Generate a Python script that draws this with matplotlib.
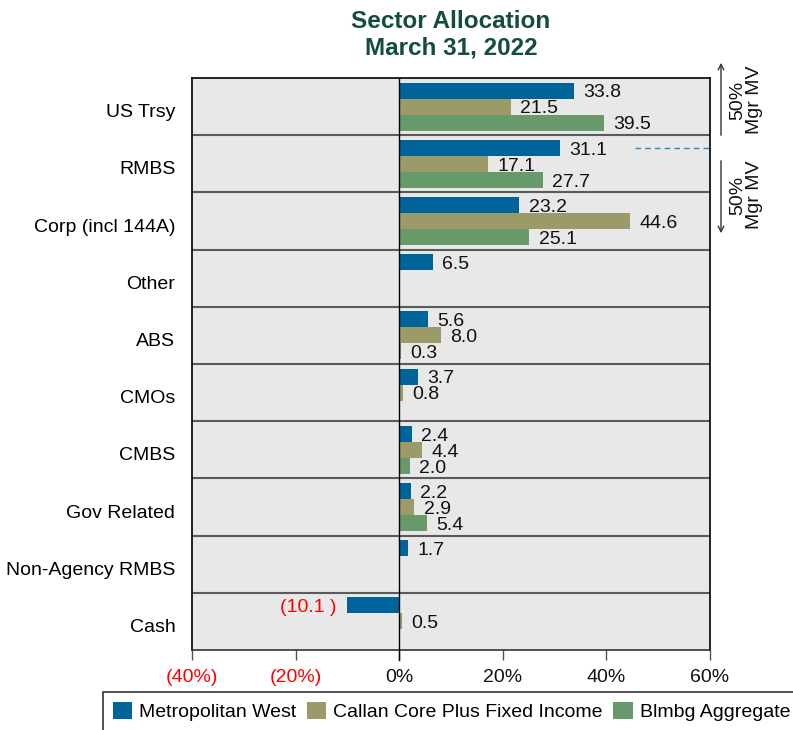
import numpy as np
import matplotlib
matplotlib.use("Agg")
from matplotlib import pyplot as plt
from matplotlib.patches import Patch
from matplotlib.transforms import ScaledTranslation

plt.rcParams["font.family"] = ["Liberation Sans", "DejaVu Sans"]

categories = ["US Trsy", "RMBS", "Corp (incl 144A)", "Other", "ABS", "CMOs",
              "CMBS", "Gov Related", "Non-Agency RMBS", "Cash"]
series_names = ["Metropolitan West", "Callan Core Plus Fixed Income", "Blmbg Aggregate"]
met_west = [33.8, 31.1, 23.2, 6.5, 5.6, 3.7, 2.4, 2.2, 1.7, -10.1]
callan = [21.5, 17.1, 44.6, None, 8.0, 0.8, 4.4, 2.9, None, 0.5]
blmbg = [39.5, 27.7, 25.1, None, 0.3, None, 2.0, 5.4, None, None]
x_ticks = [-40, -20, 0, 20, 40, 60]
x_labels = ["(40%)", "(20%)", "0%", "20%", "40%", "60%"]

colors = ["#00649B", "#9B9A68", "#67996A"]
bg = "#E8E8E8"
fs = 14

fig = plt.figure(figsize=(7.93, 7.30), dpi=100)
ax = fig.add_axes([192 / 793, 1 - 650 / 730, 518 / 793, 572 / 730])
ax.set_facecolor(bg)

bar_h = 0.28
offsets = [-bar_h, 0, bar_h]
y = np.arange(len(categories))

for vals, off, col in zip([met_west, callan, blmbg], offsets, colors):
    for i, v in enumerate(vals):
        if v is None:
            continue
        ax.barh(i + off, v, height=bar_h, color=col, zorder=3)
        if v < 0:
            ax.text(v - 2.0, i + off + 0.03, f"({abs(v):.1f} )", color="red",
                    ha="right", va="center", fontsize=fs, zorder=5)
        else:
            ax.text(v + 1.8, i + off + 0.04, f"{v:.1f}", color="#111111",
                    ha="left", va="center", fontsize=fs, zorder=5)

# row separators
for b in np.arange(0.5, len(categories) - 0.5, 1):
    ax.axhline(b, color="#5A5A5A", lw=1.5, zorder=2)

ax.axvline(0, color="black", lw=1, zorder=4, ymin=-0.018, clip_on=False)

# dashed marker on RMBS row
ax.plot([45.5, 60], [1 - bar_h, 1 - bar_h], ls=(0, (4, 3)), color="#2A8AC0",
        lw=1, zorder=4)

ax.set_xlim(-40, 60)
ax.set_ylim(len(categories) - 0.5, -0.5)
ax.set_xticks(x_ticks)
ax.set_xticklabels(x_labels, fontsize=fs)
for lbl, t in zip(ax.get_xticklabels(), x_ticks):
    lbl.set_color("red" if t < 0 else "#111111")
ax.tick_params(axis="x", length=7, width=1, color="#555555", pad=7)
ax.set_yticks(y)
ax.set_yticklabels(categories, fontsize=fs)
ax.tick_params(axis="y", length=0, pad=12)
shift = ScaledTranslation(0, -3 / 72, fig.dpi_scale_trans)
for lbl in ax.get_yticklabels():
    lbl.set_transform(lbl.get_transform() + shift)
for s in ax.spines.values():
    s.set_color("black")
    s.set_linewidth(1.2)
ax.spines["bottom"].set_color("#333333")

fig.text(451 / 793, 1 - 35 / 730, "Sector Allocation\nMarch 31, 2022", ha="center",
         va="center", fontsize=17.5, fontweight="bold", color="#124D3D",
         linespacing=1.22)

# right side annotations
ax.annotate("", xy=(721 / 793, 1 - 60 / 730), xytext=(721 / 793, 1 - 138 / 730),
            xycoords="figure fraction",
            arrowprops=dict(arrowstyle="->", color="#333333", lw=1))
ax.annotate("", xy=(721 / 793, 1 - 236 / 730), xytext=(721 / 793, 1 - 158 / 730),
            xycoords="figure fraction",
            arrowprops=dict(arrowstyle="->", color="#333333", lw=1))
for yy in [100, 195]:
    fig.text(746 / 793, 1 - yy / 730, "50%\nMgr MV", rotation=90, ha="center",
             va="center", fontsize=fs, color="#111111", linespacing=1.0)

handles = [Patch(facecolor=c, edgecolor="none") for c in colors]
leg = fig.legend(handles, series_names, loc="upper left", ncol=3,
                 bbox_to_anchor=(103 / 793, 1 - 692 / 730), fontsize=fs,
                 frameon=True, fancybox=False, edgecolor="black",
                 handlelength=1.0, handleheight=1.0, handletextpad=0.35,
                 columnspacing=0.55, borderpad=0.5, borderaxespad=0)
leg.get_frame().set_linewidth(1.2)

fig.savefig("out.png", dpi=100)
plt.close(fig)
